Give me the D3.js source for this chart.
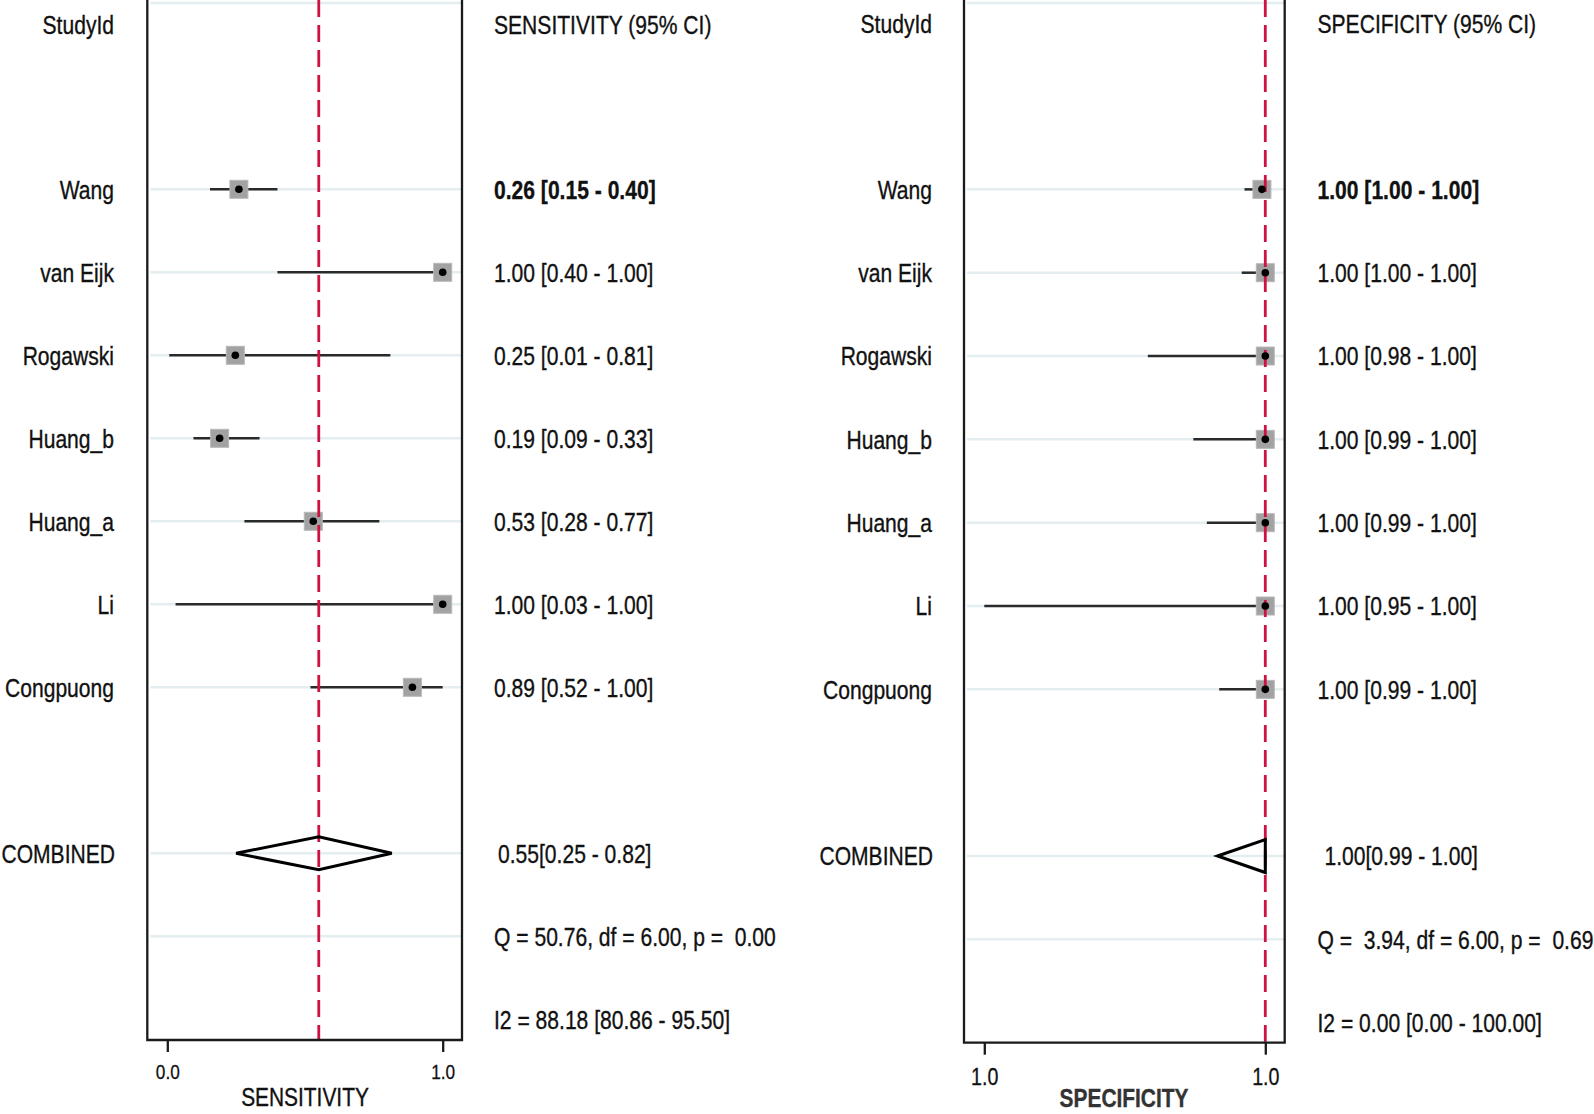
<!DOCTYPE html>
<html><head><meta charset="utf-8">
<script src="https://cdn.jsdelivr.net/npm/d3@7/dist/d3.min.js"></script>
<style>html,body{margin:0;padding:0;background:#fff;}svg{display:block;}</style>
</head><body>
<svg id="chart" width="1594" height="1114"></svg>
<script>
// ---------------- data ----------------
const studies = ["Wang","van Eijk","Rogawski","Huang_b","Huang_a","Li","Congpuong"];

const sensEst = [0.26, 1.00, 0.247, 0.19, 0.53, 1.00, 0.89];
const sensLo  = [0.155, 0.40, 0.007, 0.095, 0.28, 0.03, 0.52];
const sensHi  = [0.40, 1.00, 0.81, 0.335, 0.77, 1.00, 1.00];
const sensText = ["0.26 [0.15 - 0.40]","1.00 [0.40 - 1.00]","0.25 [0.01 - 0.81]","0.19 [0.09 - 0.33]","0.53 [0.28 - 0.77]","1.00 [0.03 - 1.00]","0.89 [0.52 - 1.00]"];
const sensPooled = [0.55, 0.25, 0.815];           // estimate, lower, upper
const sensPooledText = "0.55[0.25 - 0.82]";
const sensQText = "Q = 50.76, df = 6.00, p =  0.00";
const sensI2Text = "I2 = 88.18 [80.86 - 95.50]";
const sensTicks = [0, 1];
const sensTickLabels = ["0.0", "1.0"];

const specEst = [0.9994, 1.00, 1.00, 1.00, 1.00, 1.00, 1.00];
const specLo  = [0.9963, 0.9958, 0.9791, 0.9872, 0.9896, 0.95, 0.9918];
const specHi  = [1.00, 1.00, 1.00, 1.00, 1.00, 1.00, 1.00];
const specText = ["1.00 [1.00 - 1.00]","1.00 [1.00 - 1.00]","1.00 [0.98 - 1.00]","1.00 [0.99 - 1.00]","1.00 [0.99 - 1.00]","1.00 [0.95 - 1.00]","1.00 [0.99 - 1.00]"];
const specPooled = [1.00, 0.9915, 1.00];
const specPooledText = "1.00[0.99 - 1.00]";
const specQText = "Q =  3.94, df = 6.00, p =  0.69";
const specI2Text = "I2 = 0.00 [0.00 - 100.00]";
const specTicks = [0.95, 1.00];
const specTickLabels = ["1.0", "1.0"];

const rowKeys = ["header","gapA"].concat(studies).concat(["gapB","COMBINED","Q","I2"]);

// ---------------- font ----------------
function hasFont(name){
  const c = document.createElement('canvas').getContext('2d');
  const s = 'SENSITIVITY Wang 0.26 [0.15]';
  c.font = '40px monospace'; const w1 = c.measureText(s).width;
  c.font = '40px "' + name + '", monospace'; const w2 = c.measureText(s).width;
  return Math.abs(w1 - w2) > 0.5;
}
const narrow = hasFont('Liberation Sans Narrow');
const FONT = narrow ? "'Liberation Sans Narrow', 'Arial Narrow'" : "'Liberation Sans', Arial, sans-serif";
const SX = narrow ? 1 : 0.82;

const svg = d3.select('#chart');

function txt(g, x, y, s, size, anchor, weight, fill){
  return g.append('text')
    .attr('transform', `translate(${x},${y}) scale(${SX},1)`)
    .attr('text-anchor', anchor || 'start')
    .style('font-family', FONT)
    .style('font-size', size + 'px')
    .style('font-weight', weight || 'normal')
    .style('white-space', 'pre')
    .attr('fill', fill || '#111')
    .attr('stroke', fill || '#111').attr('stroke-width', 0.35)
    .text(s);
}

function panel(cfg){
  const g = svg.append('g');
  const x = d3.scaleLinear().domain(cfg.domain).range(cfg.xrange);
  const y = d3.scalePoint().domain(rowKeys).range(cfg.yrange);
  const FS = 25.7;
  const base = v => v + 0.36 * FS;

  // grid lines
  const gridRows = studies.concat(["COMBINED","Q"]);
  g.selectAll('line.grid').data(gridRows).join('line')
    .attr('x1', cfg.frameL + 3).attr('x2', cfg.frameR)
    .attr('y1', d => y(d)).attr('y2', d => y(d))
    .attr('stroke', '#e4eef1').attr('stroke-width', 2.5);
  g.append('line').attr('x1', cfg.frameL + 3).attr('x2', cfg.frameR)
    .attr('y1', 3).attr('y2', 3).attr('stroke', '#e4eef1').attr('stroke-width', 2.5);

  const idx = d3.range(studies.length);
  // CI lines
  g.selectAll('line.ci').data(idx).join('line')
    .attr('x1', i => x(cfg.lo[i])).attr('x2', i => x(cfg.hi[i]))
    .attr('y1', i => y(studies[i])).attr('y2', i => y(studies[i]))
    .attr('stroke', '#2a2a2a').attr('stroke-width', 2.5);
  // squares
  const S = 18;
  g.selectAll('rect.sq').data(idx).join('rect')
    .attr('x', i => x(cfg.est[i]) - S/2).attr('y', i => y(studies[i]) - S/2)
    .attr('width', S).attr('height', S)
    .attr('fill', '#a2a2a2').attr('stroke', '#b8b8b8').attr('stroke-width', 1);

  // reference dashed line at pooled estimate
  g.append('line')
    .attr('x1', x(cfg.pooled[0])).attr('x2', x(cfg.pooled[0]))
    .attr('y1', 0).attr('y2', cfg.frameB - 1)
    .attr('stroke', '#cf1242').attr('stroke-width', 2.8)
    .attr('stroke-dasharray', '17,8');

  // dots
  g.selectAll('circle.dot').data(idx).join('circle')
    .attr('cx', i => x(cfg.est[i])).attr('cy', i => y(studies[i]))
    .attr('r', 3.8).attr('fill', '#000');

  // pooled diamond
  const cy = y('COMBINED'), h = 16.5;
  const pts = [[x(cfg.pooled[1]), cy],[x(cfg.pooled[0]), cy - h],[x(cfg.pooled[2]), cy],[x(cfg.pooled[0]), cy + h]];
  g.append('path').attr('d', d3.line()(pts) + 'Z')
    .attr('fill', 'none').attr('stroke', '#000').attr('stroke-width', 3).attr('stroke-linejoin', 'miter');

  // frame
  g.append('path')
    .attr('d', `M${cfg.frameL},0V${cfg.frameB}H${cfg.frameR}V0`)
    .attr('fill', 'none').attr('stroke', '#1a1a1a').attr('stroke-width', 2.3);

  // axis
  const ax = d3.axisBottom(x).tickValues(cfg.ticks)
    .tickFormat((d, i) => cfg.tickLabels[i]).tickSize(12).tickPadding(cfg.tickPad);
  const axg = g.append('g').attr('transform', `translate(0,${cfg.frameB})`).call(ax);
  axg.select('.domain').remove();
  axg.selectAll('.tick line').attr('stroke', '#1a1a1a').attr('stroke-width', 2.3);
  axg.selectAll('.tick text')
    .attr('transform', `scale(${SX},1)`)
    .style('font-family', FONT).style('font-size', cfg.tickFS + 'px')
    .attr('fill', '#111').attr('stroke', '#111').attr('stroke-width', 0.3);

  // axis title
  txt(g, cfg.titleX, cfg.titleY, cfg.title, 25.5, 'middle', cfg.titleWeight, cfg.titleFill);

  // left labels
  txt(g, cfg.labelR, base(y('header')) + 1.5, 'StudyId', FS, 'end');
  studies.forEach(s => txt(g, cfg.labelR, base(y(s)), s, FS, 'end'));
  txt(g, cfg.labelR + 1, base(y('COMBINED')), 'COMBINED', FS, 'end');

  // right texts
  txt(g, cfg.valX, base(y('header')) + 1.5, cfg.header, FS, 'start');
  cfg.texts.forEach((t, i) => txt(g, cfg.valX, base(y(studies[i])), t, FS, 'start', i === 0 ? 'bold' : 'normal'));
  txt(g, cfg.valX + cfg.pooledShift, base(y('COMBINED')), cfg.pooledText, FS, 'start');
  txt(g, cfg.valX, base(y('Q')), cfg.qText, FS, 'start');
  txt(g, cfg.valX, base(y('I2')), cfg.i2Text, FS, 'start');
}

panel({
  domain: [0, 1], xrange: [167.3, 442.7], yrange: [23.3, 1019.3],
  frameL: 147.3, frameR: 462, frameB: 1040,
  est: sensEst, lo: sensLo, hi: sensHi, pooled: sensPooled,
  ticks: sensTicks, tickLabels: sensTickLabels, tickPad: 12, tickFS: 21,
  title: 'SENSITIVITY', titleX: 305, titleY: 1106, titleWeight: 'normal', titleFill: '#111',
  labelR: 114, valX: 494, header: 'SENSITIVITY (95% CI)',
  texts: sensText, pooledText: sensPooledText, pooledShift: 4,
  qText: sensQText, i2Text: sensI2Text
});

panel({
  domain: [0.95, 1.0], xrange: [984.3, 1265.3], yrange: [22.7, 1022.7],
  frameL: 964, frameR: 1284.7, frameB: 1042.7,
  est: specEst, lo: specLo, hi: specHi, pooled: specPooled,
  ticks: specTicks, tickLabels: specTickLabels, tickPad: 13, tickFS: 24,
  title: 'SPECIFICITY', titleX: 1124, titleY: 1107, titleWeight: 'bold', titleFill: '#333',
  labelR: 932, valX: 1317.5, header: 'SPECIFICITY (95% CI)',
  texts: specText, pooledText: specPooledText, pooledShift: 7,
  qText: specQText, i2Text: specI2Text
});
</script>
</body></html>
